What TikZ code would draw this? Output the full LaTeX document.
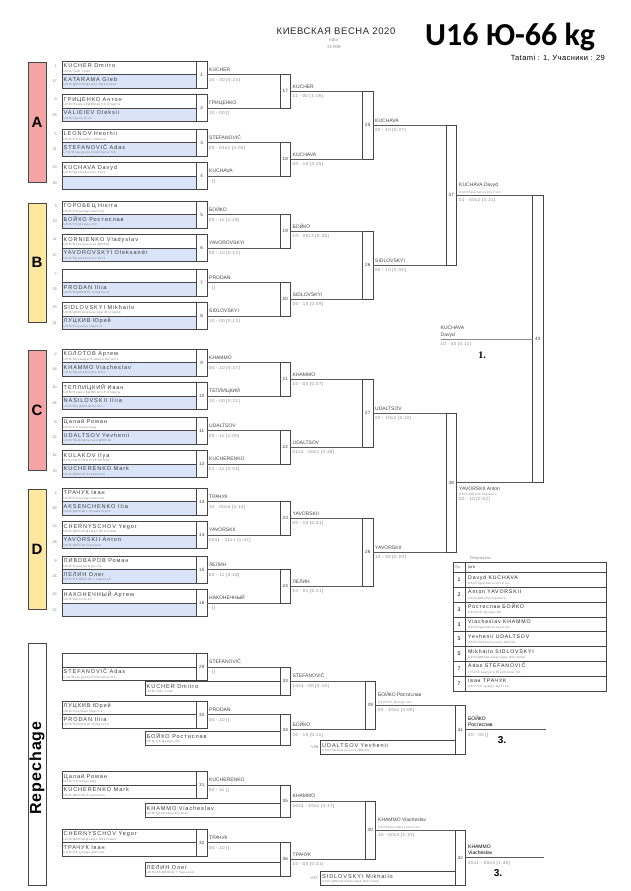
\documentclass[tikz,border=0pt]{standalone}
\usepackage{fontspec}
\setmainfont{Liberation Sans}
\newfontfamily\lsA[LetterSpace=16]{Liberation Sans}
\newfontfamily\lsB[LetterSpace=12]{Liberation Sans}
\newfontfamily\lsT[LetterSpace=6]{Liberation Sans}
\newfontfamily\bigf{Carlito}
\newfontfamily\serB{Liberation Serif}
\definecolor{bl}{RGB}{217,228,248}
\definecolor{pinkc}{RGB}{245,164,164}
\definecolor{yelc}{RGB}{255,231,160}
\definecolor{boxc}{RGB}{70,70,70}
\definecolor{linec}{RGB}{90,90,90}
\definecolor{namec}{RGB}{60,60,60}
\definecolor{labc}{RGB}{70,70,70}
\definecolor{clubc}{RGB}{130,130,130}
\tikzset{
  entry/.style={draw=boxc, line width=0.55pt, anchor=north west, minimum height=13.5pt, inner sep=0pt, outer sep=0pt},
  nm/.style={anchor=base west, inner sep=0pt, font=\lsA\fontsize{5.6}{6.5}\selectfont, text=namec},
  cl/.style={anchor=base west, inner sep=0pt, font=\lsA\fontsize{3.1}{3.6}\selectfont, text=clubc},
  seedn/.style={anchor=east, inner sep=0pt, font=\fontsize{3.8}{4.2}\selectfont, text=clubc},
  mb/.style={draw=boxc, line width=0.6pt, anchor=north west, minimum width=10.5pt, inner sep=0pt, outer sep=0pt, fill=white, font=\fontsize{4.6}{5}\selectfont, text=namec},
  conn/.style={draw=linec, line width=0.6pt},
  wl/.style={anchor=base west, inner sep=0pt, font=\fontsize{5}{6}\selectfont, text=labc},
  sc/.style={anchor=base west, inner sep=0pt, font=\lsB\fontsize{4.3}{5}\selectfont, text=clubc},
  lbox/.style={draw=boxc, line width=0.6pt, anchor=north west, minimum width=17.5pt, inner sep=0pt, font=\bfseries\fontsize{15}{15}\selectfont},
  rk/.style={inner sep=0pt, font=\fontsize{5.2}{6}\selectfont, text=black},
  rn/.style={anchor=base west, inner sep=0pt, font=\lsA\fontsize{5.2}{6}\selectfont, text=black!85},
  rc/.style={anchor=base west, inner sep=0pt, font=\lsA\fontsize{3.1}{3.6}\selectfont, text=clubc},
  small/.style={inner sep=0pt, font=\fontsize{4}{4.5}\selectfont, text=clubc},
  place/.style={inner sep=0pt, font=\bfseries\fontsize{10}{11}\selectfont},
}
\newcommand\EN[7]{%
  \node[entry, minimum width=#4, fill=#5] (#1) at (#2,{#3}) {};
  \node[nm] (#1n) at ([xshift=1.5pt,yshift=-6.6pt]#1.north west) {#6};
  \node[cl] (#1c) at ([xshift=1.5pt,yshift=-11.2pt]#1.north west) {#7};
}
\newcommand\PP[8]{%
  \EN{e#2}{62}{#1}{134.5pt}{white}{#3}{#4}%
  \EN{e#5}{62}{#1+13.5}{134.5pt}{bl}{#6}{#7}%
  \node[seedn] (s#2) at (57,{#1+5}) {#2};%
  \node[seedn] (s#5) at (57,{#1+20.5}) {#5};%
  \node[mb, minimum height=27pt] (m#8) at (196.5,{#1}) {#8};%
}
\newcommand\MB[4]{\node[mb, minimum height={(#4-#3)*1pt}] (m#1) at (#2,{#3}) {#1};}
\newcommand\WL[3]{%
  \node[wl] (w#1) at ([xshift=2pt,yshift=3.2pt]m#1.east) {#2};
  \node[sc] (r#1) at ([xshift=2pt,yshift=-6.6pt]m#1.east) {#3};
}
\newcommand\RR[4]{%
  \node[rk] (rk#1) at (459,{572.5+14.8*(#1-1)+7.4}) {#2};
  \node[rn] (rn#1) at (468,{572.5+14.8*(#1-1)+6.6}) {#3};
  \node[rc] (rc#1) at (468,{572.5+14.8*(#1-1)+11.8}) {#4};
}
\begin{document}
\begin{tikzpicture}[x=1pt,y=-1pt]
\useasboundingbox[fill=white] (0,0) rectangle (630,891);

% header
\node[font=\lsT\fontsize{9.5}{11}\selectfont, text=black!85, inner sep=0pt] (title) at (336,31) {КИЕВСКАЯ ВЕСНА 2020};
\node[small] (city) at (334,40) {KIEV};
\node[small] (date) at (334,47.5) {22.FEB};
\node[anchor=base west, inner sep=0pt, font=\bigf\bfseries\fontsize{32}{34}\selectfont] (cat) at (425,45.5) {U16 Ю-66 kg};
\node[anchor=base east, inner sep=0pt, font=\lsT\fontsize{7.5}{8.5}\selectfont] (tat) at (605,60) {Tatami : 1, Учасники : 29};

% pool letters
\node[lbox, fill=pinkc, minimum height=119.5pt] (pA) at (28,62.5) {A};
\node[lbox, fill=yelc, minimum height=119.5pt] (pB) at (28,202.5) {B};
\node[lbox, fill=pinkc, minimum height=119.5pt] (pC) at (28,350) {C};
\node[lbox, fill=yelc, minimum height=119.5pt] (pD) at (28,489) {D};

% pool A
\PP{61}{1}{KUCHER Dmitro}{UKR/Tafu Judo}{17}{KATARAMA Gleb}{UKR/ДЮСШ Дзюдо Николаев}{1}
\PP{94.5}{9}{ГРИЦЕНКО Антон}{UKR/Нежин КДЮСШ СК Спарта}{25}{VALIEIEV Oleksii}{UKR/Ippon Kiev}{2}
\PP{129}{5}{LEONOV Heorhii}{UKR/CK Bandori Odesa}{21}{STEFANOVIČ Adas}{LTU/Draugystė Elektrėnai SK}{3}
\PP{162.5}{13}{KUCHAVA Davyd}{UKR/Spartakovets Kiev}{29}{}{}{4}
% pool B
\PP{201}{3}{ГОРОБЕЦ Нікіта}{UKR/CK дзюдо мастер}{19}{БОЙКО Ростислав}{UKR/CK Дзюдо-80}{5}
\PP{234.5}{11}{KORNIENKO Vladyslav}{UKR/Березанська ДЮСШ}{27}{YAVOROVSKYI Oleksandr}{UKR/Spartakovets Kiev}{6}
\PP{269}{7}{}{}{23}{PRODAN Iliia}{UKR/RANDORI Uzhgorod}{7}
\PP{302.5}{15}{SIDLOVSKYI Mikhailo}{UKR/ДЮСШ Авангард Житомир}{31}{ЛУЦКИВ Юрий}{UKR/Кодокан Одесса}{8}
% pool C
\PP{349}{2}{КОЛОТОВ Артем}{UKR/Бровары Плавни Ukraine}{18}{KHAMMO Viacheslav}{UKR/Spartakovets Kiev}{9}
\PP{382.5}{10}{ТЕПЛИЦКИЙ Иван}{UKR/Нежин КДЮСШ СК Спарта}{26}{NASILOVSKII Iliia}{UKR/ВЦ ДЮСШ Колос}{10}
\PP{417}{6}{Цалай Роман}{UKR/CK Авангард}{22}{UDALTSOV Yevhenii}{UKR/Любомльська ДЮСШ}{11}
\PP{450.5}{14}{KULAKOV Ilya}{BLR/SDUSHOR SE MINSK}{30}{KUCHERENKO Mark}{UKR/ДЮСШ Покровськ}{12}
% pool D
\PP{488}{4}{ТРАЧУК Іван}{UKR/CK дзюдо мастер}{20}{AKSENCHENKO Ilia}{UKR/ДЮСШ 1 Краматорск}{13}
\PP{521.5}{12}{CHERNYSCHOV Yegor}{UKR/ДЮСШ Дзюдо Николаев}{28}{YAVORSKII Anton}{UKR/ДЮСШ Украина}{14}
\PP{556}{8}{ПИВОВАРОВ Роман}{UKR/Бушидо Одесса}{24}{ЛЕЛИН Олег}{UKR/ИК ДЮСШ-7 Харьков}{15}
\PP{589.5}{16}{НАКОНЕЧНЫЙ Артем}{UKR/Ippon Kiev}{32}{}{}{16}

% round 2
\MB{17}{280}{74.5}{108}
\MB{18}{280}{142.5}{176}
\MB{19}{280}{214.5}{248}
\MB{20}{280}{282.5}{316}
\MB{21}{280}{362.5}{396}
\MB{22}{280}{430.5}{464}
\MB{23}{280}{501.5}{535}
\MB{24}{280}{569.5}{603}
% round 3
\MB{25}{362.5}{91.25}{159.25}
\MB{26}{362.5}{231.25}{299.25}
\MB{27}{362.5}{379.25}{447.25}
\MB{28}{362.5}{518.25}{586.25}
% round 4
\MB{37}{446}{125.25}{265.25}
\MB{38}{446}{413.25}{552.25}
% final
\MB{43}{532.5}{195.25}{482.75}

\foreach \a/\b/\c in {1/2/17,3/4/18,5/6/19,7/8/20,9/10/21,11/12/22,13/14/23,15/16/24,17/18/25,19/20/26,21/22/27,23/24/28,25/26/37,27/28/38,37/38/43}{
  \draw[conn] (m\a.east) -- (m\c.north west);
  \draw[conn] (m\b.east) -- (m\c.south west);
}

\WL{1}{KUCHER}{10 - 00 [0:24]}
\WL{2}{ГРИЦЕНКО}{10 - 00 []}
\WL{3}{STEFANOVIČ}{00 - 01s1 [4:03]}
\WL{4}{KUCHAVA}{- []}
\WL{5}{БОЙКО}{00 - 11 [1:28]}
\WL{6}{YAVOROVSKYI}{00 - 10 [0:12]}
\WL{7}{PRODAN}{- []}
\WL{8}{SIDLOVSKYI}{10 - 00 [0:13]}
\WL{9}{KHAMMO}{00 - 10 [0:47]}
\WL{10}{ТЕПЛИЦКИЙ}{10 - 00 [0:21]}
\WL{11}{UDALTSOV}{00 - 11 [1:05]}
\WL{12}{KUCHERENKO}{01 - 11 [2:04]}
\WL{13}{ТРАЧУК}{10 - 00s3 [4:14]}
\WL{14}{YAVORSKII}{00s1 - 11s1 [1:47]}
\WL{15}{ЛЕЛИН}{00 - 11 [0:18]}
\WL{16}{НАКОНЕЧНЫЙ}{- []}
\WL{17}{KUCHER}{11 - 00 [1:16]}
\WL{18}{KUCHAVA}{00 - 10 [2:25]}
\WL{19}{БОЙКО}{10 - 00s3 [0:25]}
\WL{20}{SIDLOVSKYI}{00 - 10 [0:09]}
\WL{21}{KHAMMO}{10 - 00 [0:07]}
\WL{22}{UDALTSOV}{01s1 - 00s1 [3:28]}
\WL{23}{YAVORSKII}{00 - 10 [0:41]}
\WL{24}{ЛЕЛИН}{10 - 01 [5:21]}
\WL{25}{KUCHAVA}{00 - 10 [0:37]}
\WL{26}{SIDLOVSKYI}{00 - 10 [2:02]}
\WL{27}{UDALTSOV}{00 - 10s2 [2:10]}
\WL{28}{YAVORSKII}{10 - 00 [0:20]}

\node[wl] (w37) at ([xshift=2.5pt,yshift=8.4pt]m37.east) {KUCHAVA Davyd};
\node[cl] (w37c) at ([xshift=2.5pt,yshift=2pt]m37.east) {UKR/Spartakovets Kiev};
\node[sc] (r37) at ([xshift=2.5pt,yshift=-6.6pt]m37.east) {01 - 00s2 [3:21]};
\node[wl] (w38) at ([xshift=2.5pt,yshift=-7.8pt]m38.east) {YAVORSKII Anton};
\node[cl] (w38c) at ([xshift=2.5pt,yshift=-12.4pt]m38.east) {UKR/ДЮСШ Украина};
\node[sc] (r38) at ([xshift=2.5pt,yshift=-17.8pt]m38.east) {00 - 10 [0:52]};

\coordinate (f43) at (440.5,339);
\draw[conn, draw=black!45] (m43.west) -- (f43);
\node[wl] (w43) at ([yshift=9.5pt]f43) {KUCHAVA};
\node[wl] (w43b) at ([yshift=3pt]f43) {Davyd};
\node[sc] (r43) at ([yshift=-6.6pt]f43) {10 - 00 [0:11]};
\node[place, font=\serB\bfseries\fontsize{10}{11}\selectfont] (p1) at (482,355.5) {1.};

% results table
\node[small, anchor=west] (restitle) at (470,558.5) {Результати};
\draw[draw=boxc, line width=0.9pt] (453,562) rectangle (606,691);
\draw[draw=boxc, line width=0.5pt] (465,562) -- (465,691);
\foreach \i in {0,...,7}{\draw[draw=boxc, line width=0.5pt] (453,{572.5+14.8*\i}) -- (606,{572.5+14.8*\i});}
\node[small, anchor=west] (th1) at (454.5,567.5) {Пр.};
\node[small, anchor=west, text=black!80] (th2) at (468,567.5) {Ім'я};
\RR{1}{1}{Davyd KUCHAVA}{UKR/Spartakovets Kiev}
\RR{2}{2}{Anton YAVORSKII}{UKR/ДЮСШ Украина}
\RR{3}{3}{Ростислав БОЙКО}{UKR/CK Дзюдо-80}
\RR{4}{3}{Viacheslav KHAMMO}{UKR/Spartakovets Kiev}
\RR{5}{5}{Yevhenii UDALTSOV}{UKR/Любомльська ДЮСШ}
\RR{6}{5}{Mikhailo SIDLOVSKYI}{UKR/ДЮСШ Авангард Житомир}
\RR{7}{7}{Adas STEFANOVIČ}{LTU/Draugystė Elektrėnai SK}
\RR{8}{7}{Іван ТРАЧУК}{UKR/CK дзюдо мастер}

% repechage
\node[draw=boxc, line width=0.6pt, anchor=north west, minimum width=17.5pt, minimum height=242pt, inner sep=0pt] (rep) at (28,643) {};
\node[rotate=90, inner sep=0pt, font=\lsT\bfseries\fontsize{16}{16}\selectfont] (reptxt) at (37,768) {Repechage};

\EN{q29a}{62}{653.5}{134.5pt}{white}{}{}
\EN{q29b}{62}{667}{134.5pt}{white}{STEFANOVIČ Adas}{LTU/Draugystė Elektrėnai SK}
\node[mb, minimum height=27pt] (m29) at (196.5,653.5) {29};
\EN{q33}{145}{681.5}{135pt}{white}{KUCHER Dmitro}{UKR/Tafu Judo}
\MB{33}{280}{667}{695}
\EN{q30a}{62}{701}{134.5pt}{white}{ЛУЦКИВ Юрий}{UKR/Кодокан Одесса}
\EN{q30b}{62}{714.5}{134.5pt}{white}{PRODAN Iliia}{UKR/RANDORI Uzhgorod}
\node[mb, minimum height=27pt] (m30) at (196.5,701) {30};
\EN{q34}{145}{731.5}{135pt}{white}{БОЙКО Ростислав}{UKR/CK Дзюдо-80}
\MB{34}{280}{714.5}{745}
\MB{39}{365}{681}{729.75}
\EN{q41}{320.5}{740.5}{134.5pt}{white}{UDALTSOV Yevhenii}{UKR/Любомльська ДЮСШ}
\MB{41}{455}{705.375}{754}
\node[small, anchor=east] (v38) at (318.5,747.5) {V38};

\EN{q31a}{62}{771.5}{134.5pt}{white}{Цалай Роман}{UKR/CK Авангард}
\EN{q31b}{62}{785}{134.5pt}{white}{KUCHERENKO Mark}{UKR/ДЮСШ Покровськ}
\node[mb, minimum height=27pt] (m31) at (196.5,771.5) {31};
\EN{q35}{145}{803.5}{135pt}{white}{KHAMMO Viacheslav}{UKR/Spartakovets Kiev}
\MB{35}{280}{785}{817}
\EN{q32a}{62}{829}{134.5pt}{white}{CHERNYSCHOV Yegor}{UKR/ДЮСШ Дзюдо Николаев}
\EN{q32b}{62}{842.5}{134.5pt}{white}{ТРАЧУК Іван}{UKR/CK дзюдо мастер}
\node[mb, minimum height=27pt] (m32) at (196.5,829) {32};
\EN{q36}{145}{862.5}{135pt}{white}{ЛЕЛИН Олег}{UKR/ИК ДЮСШ-7 Харьков}
\MB{36}{280}{842.5}{876}
\MB{40}{365}{801}{859.25}
\EN{q42}{320.5}{871.5}{134.5pt}{white}{SIDLOVSKYI Mikhailo}{UKR/ДЮСШ Авангард Житомир}
\MB{42}{455}{830.125}{885}
\node[small, anchor=east] (v37) at (318,878.5) {V37};

\foreach \a/\c in {29/33,30/34,33/39,39/41,31/35,32/36,35/40,40/42}{
  \draw[conn] (m\a.east) -- (m\c.north west);
}
\foreach \b/\c in {34/39,36/40}{
  \draw[conn] (m\b.east) -- (m\c.south west);
}
\path (m41.east) ++(80,0) coordinate (f41);
\path (m42.east) ++(78,0) coordinate (f42);
\draw[conn] (m41.east) -- (f41);
\draw[conn] (m42.east) -- (f42);

\WL{29}{STEFANOVIČ}{- []}
\WL{30}{PRODAN}{00 - 10 []}
\WL{31}{KUCHERENKO}{00 - 11 []}
\WL{32}{ТРАЧУК}{00 - 10 []}
\WL{33}{STEFANOVIČ}{10s1 - 00 [2:15]}
\WL{34}{БОЙКО}{00 - 10 [0:11]}
\WL{35}{KHAMMO}{00s3 - 10s1 [4:17]}
\WL{36}{ТРАЧУК}{10 - 00 [0:41]}

\node[wl] (w39) at ([xshift=2.5pt,yshift=8.4pt]m39.east) {БОЙКО Ростислав};
\node[cl] (w39c) at ([xshift=2.5pt,yshift=2pt]m39.east) {UKR/CK Дзюдо-80};
\node[sc] (r39) at ([xshift=2.5pt,yshift=-6.6pt]m39.east) {00 - 10s1 [3:00]};
\node[wl] (w40) at ([xshift=2.5pt,yshift=8.4pt]m40.east) {KHAMMO Viacheslav};
\node[cl] (w40c) at ([xshift=2.5pt,yshift=2pt]m40.east) {UKR/Spartakovets Kiev};
\node[sc] (r40) at ([xshift=2.5pt,yshift=-6.6pt]m40.east) {10 - 00s3 [2:12]};

\node[wl, text=black] (w41) at ([xshift=2.5pt,yshift=9.5pt]m41.east) {БОЙКО};
\node[wl, text=black] (w41b) at ([xshift=2.5pt,yshift=3pt]m41.east) {Ростислав};
\node[sc] (r41) at ([xshift=2.5pt,yshift=-6.6pt]m41.east) {10 - 00 []};
\node[place] (p41) at (502,740) {3.};
\node[wl, text=black] (w42) at ([xshift=2.5pt,yshift=9.5pt]m42.east) {KHAMMO};
\node[wl, text=black] (w42b) at ([xshift=2.5pt,yshift=3pt]m42.east) {Viacheslav};
\node[sc] (r42) at ([xshift=2.5pt,yshift=-6.6pt]m42.east) {10s1 - 00s3 [1:49]};
\node[place] (p42) at (498,873.5) {3.};
\end{tikzpicture}
\end{document}
